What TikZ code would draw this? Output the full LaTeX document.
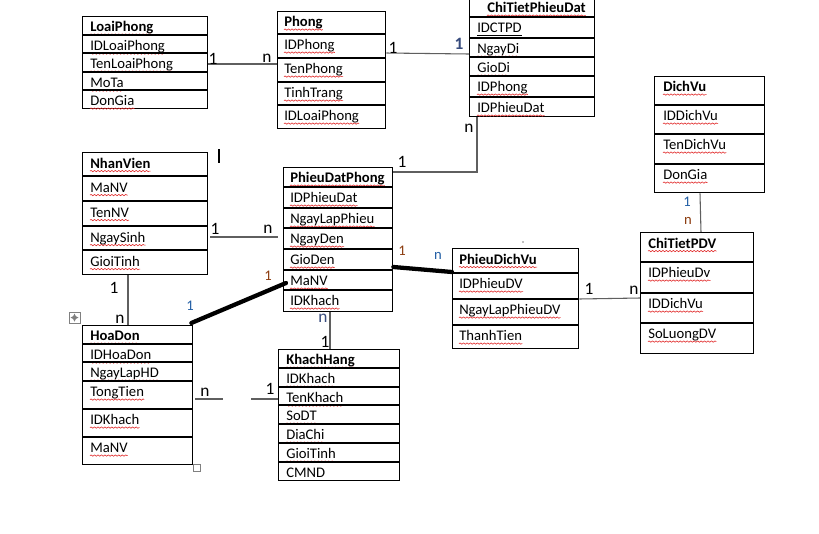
\documentclass[tikz,border=0pt]{standalone}
\usepackage{fontspec}
\setmainfont{Carlito}
\usetikzlibrary{decorations.pathmorphing}
\definecolor{squig}{RGB}{225,40,40}
\definecolor{numblue}{RGB}{35,95,165}
\definecolor{numbrown}{RGB}{140,60,15}
\definecolor{inkblue}{RGB}{55,75,125}
\definecolor{linegray}{RGB}{95,95,95}
\newlength{\pxu}\setlength{\pxu}{0.75pt}
\tikzstyle{tbl}=[draw, line width=1pt, rectangle, anchor=north west, inner sep=0pt]
\tikzstyle{rowline}=[line width=1pt]
\tikzstyle{wavy}=[draw=squig, line width=0.45pt, decorate,
  decoration={snake, amplitude=0.5pt, segment length=2.6pt}]
\tikzstyle{txt}=[anchor=base west, inner sep=0pt, font=\fontsize{11}{13}\selectfont]
\tikzstyle{fld}=[txt, append after command={([yshift=-2.3pt]\tikzlastnode.base west)
  edge[wavy] ([yshift=-2.3pt]\tikzlastnode.base east)}]
\tikzstyle{keyfld}=[txt, append after command={([yshift=-1.8pt]\tikzlastnode.base west)
  edge[line width=0.6pt] ([yshift=-1.8pt]\tikzlastnode.base east)}]
\tikzstyle{ttl}=[fld, font=\fontsize{11}{13}\selectfont\bfseries]
\tikzstyle{conn}=[line width=0.8pt, draw=linegray]
\tikzstyle{boldconn}=[line width=3.2pt, line cap=round]
\tikzstyle{hand}=[inner sep=0pt, font=\fontsize{13}{15}\selectfont]
\tikzstyle{mult}=[inner sep=0pt, font=\fontsize{11}{13}\selectfont]

\begin{document}
\begin{tikzpicture}[x=0.75pt, y=-0.75pt]
\fill[white] (0,0) rectangle (819,533);
\useasboundingbox (0,0) rectangle (819,533);

% LoaiPhong
\node[tbl, minimum width=125\pxu, minimum height=92\pxu] (loaiphong) at (82,16) {};
\node[ttl] (loaiphong-t) at (90,31.5) {LoaiPhong};
\foreach \yy/\fname [count=\i] in {35/IDLoaiPhong, 53/TenLoaiPhong, 72/MoTa, 90/DonGia}{
  \draw[rowline] (loaiphong.west |- 0,\yy) -- (loaiphong.east |- 0,\yy);
  \node[fld] (loaiphong-\i) at (90,\yy+15.5) {\fname};
}

% Phong
\node[tbl, minimum width=108\pxu, minimum height=117\pxu] (phong) at (277,11) {};
\node[ttl] (phong-t) at (284,26.5) {Phong};
\foreach \yy/\fname [count=\i] in {34/IDPhong, 58/TenPhong, 82/TinhTrang, 105/IDLoaiPhong}{
  \draw[rowline] (phong.west |- 0,\yy) -- (phong.east |- 0,\yy);
  \node[fld] (phong-\i) at (284,\yy+15.5) {\fname};
}

% ChiTietPhieuDat
\node[tbl, minimum width=125\pxu, minimum height=118\pxu] (ctpd) at (469,-2) {};
\node[ttl] (ctpd-t) at (487,12.5) {ChiTietPhieuDat};
\draw[rowline] (ctpd.west |- 0,17) -- (ctpd.east |- 0,17);
\node[keyfld] (ctpd-1) at (477,32.5) {IDCTPD};
\foreach \yy/\fname [count=\i from 2] in {38/NgayDi, 57/GioDi, 76/IDPhong, 97/IDPhieuDat}{
  \draw[rowline] (ctpd.west |- 0,\yy) -- (ctpd.east |- 0,\yy);
  \node[fld] (ctpd-\i) at (477,\yy+15.5) {\fname};
}

% DichVu
\node[tbl, minimum width=110\pxu, minimum height=116\pxu] (dichvu) at (654,76) {};
\node[ttl] (dichvu-t) at (663,91.5) {DichVu};
\foreach \yy/\fname [count=\i] in {105/IDDichVu, 134/TenDichVu, 164/DonGia}{
  \draw[rowline] (dichvu.west |- 0,\yy) -- (dichvu.east |- 0,\yy);
  \node[fld] (dichvu-\i) at (663,\yy+15.5) {\fname};
}

% NhanVien
\node[tbl, minimum width=125\pxu, minimum height=122\pxu] (nhanvien) at (82,152) {};
\node[ttl] (nhanvien-t) at (90,168) {NhanVien};
\foreach \yy/\fname [count=\i] in {176/MaNV, 201/TenNV, 226/NgaySinh, 250/GioiTinh}{
  \draw[rowline] (nhanvien.west |- 0,\yy) -- (nhanvien.east |- 0,\yy);
  \node[fld] (nhanvien-\i) at (90,\yy+16) {\fname};
}

% PhieuDatPhong
\node[tbl, minimum width=109\pxu, minimum height=144\pxu] (pdp) at (283,167) {};
\node[ttl] (pdp-t) at (290,182.5) {PhieuDatPhong};
\foreach \yy/\fname [count=\i] in {187/IDPhieuDat, 208/NgayLapPhieu, 228/NgayDen, 249/GioDen, 270/MaNV, 290/IDKhach}{
  \draw[rowline] (pdp.west |- 0,\yy) -- (pdp.east |- 0,\yy);
  \node[fld] (pdp-\i) at (290,\yy+15.5) {\fname};
}

% PhieuDichVu
\node[tbl, minimum width=126\pxu, minimum height=100\pxu] (pdv) at (452,248) {};
\node[ttl] (pdv-t) at (459,264) {PhieuDichVu};
\foreach \yy/\fname [count=\i] in {273/IDPhieuDV, 299/NgayLapPhieuDV, 325/ThanhTien}{
  \draw[rowline] (pdv.west |- 0,\yy) -- (pdv.east |- 0,\yy);
  \node[fld] (pdv-\i) at (459,\yy+15.5) {\fname};
}

% ChiTietPDV
\node[tbl, minimum width=113\pxu, minimum height=121\pxu] (ctpdv) at (640,232) {};
\node[ttl] (ctpdv-t) at (648,248) {ChiTietPDV};
\foreach \yy/\fname [count=\i] in {262/IDPhieuDv, 293/IDDichVu, 323/SoLuongDV}{
  \draw[rowline] (ctpdv.west |- 0,\yy) -- (ctpdv.east |- 0,\yy);
  \node[fld] (ctpdv-\i) at (648,\yy+15.5) {\fname};
}

% HoaDon
\node[tbl, minimum width=110\pxu, minimum height=139\pxu] (hoadon) at (82,325) {};
\node[ttl] (hoadon-t) at (90,340.5) {HoaDon};
\foreach \yy/\fname [count=\i] in {344/IDHoaDon, 362/NgayLapHD, 381/TongTien, 409/IDKhach, 437/MaNV}{
  \draw[rowline] (hoadon.west |- 0,\yy) -- (hoadon.east |- 0,\yy);
  \node[fld] (hoadon-\i) at (90,\yy+15.5) {\fname};
}

% KhachHang
\node[tbl, minimum width=121\pxu, minimum height=131\pxu] (khachhang) at (278,349) {};
\node[ttl] (khachhang-t) at (286,364.5) {KhachHang};
\foreach \yy/\fname [count=\i] in {368/IDKhach, 387/TenKhach, 405/SoDT, 424/DiaChi, 443/GioiTinh}{
  \draw[rowline] (khachhang.west |- 0,\yy) -- (khachhang.east |- 0,\yy);
  \node[fld] (khachhang-\i) at (286,\yy+15.5) {\fname};
}
\draw[rowline] (khachhang.west |- 0,462) -- (khachhang.east |- 0,462);
\node[txt] (khachhang-6) at (286,477.5) {CMND};

% connectors
\draw[conn] (loaiphong.east |- 0,64) -- (phong.west |- 0,64);
\draw[conn] (phong.east |- 0,53) -- (ctpd.west |- 0,54);
\draw[conn] (ctpd.south -| 477,0) |- (pdp.east |- 0,172);
\draw[conn] (dichvu.south -| 700,0) -- (ctpdv.north -| 701,0);
\draw[conn] (nhanvien.east |- 0,237) ++(2,0) -- ++(68,0);
\draw[conn] (nhanvien.south -| 128,0) -- (hoadon.north -| 128,0);
\draw[conn] (pdv.east |- 0,299) -- (ctpdv.west |- 0,298);
\draw[conn] (hoadon.east |- 0,399) ++(2,0) -- ++(28,0);
\draw[conn] (khachhang.west |- 0,399) -- ++(-27,0);
\draw[conn] (pdp.south -| 330,0) -- (khachhang.north -| 330,0);
\draw[boldconn] (pdp.east |- 0,267) -- (pdv.west |- 0,272);
\draw[boldconn] ([shift={(-2,-2)}]hoadon.north east) -- ([shift={(3,0)}]pdp.west |- 0,283);

% cardinalities
\node[hand] (c1) at (213,59) {1};
\node[hand] (c2) at (267,58) {n};
\node[hand] (c3) at (393,48) {1};
\node[hand, text=inkblue, font=\fontsize{13}{15}\selectfont\bfseries] (c4) at (459,44) {1};
\node[hand] (c5) at (469,128) {n};
\node[hand] (c6) at (402,162) {1};
\node[hand] (c7) at (215,229) {1};
\node[hand] (c8) at (268,229) {n};
\node[hand] (c9) at (114,288) {1};
\node[hand] (c10) at (120,319) {n};
\node[hand] (c11) at (205,392) {n};
\node[hand] (c12) at (270,389) {1};
\node[hand, text=inkblue] (c13) at (323,318) {n};
\node[hand] (c14) at (325,342) {1};
\node[hand] (c15) at (589,289) {1};
\node[hand] (c16) at (634,290) {n};
\node[mult, text=numblue] (m1) at (190,306) {1};
\node[mult, text=numbrown] (m2) at (268,276) {1};
\node[mult, text=numbrown] (m3) at (402,251) {1};
\node[mult, text=numblue] (m4) at (438,256) {n};
\node[mult, text=numblue] (m5) at (687,202) {1};
\node[mult, text=numbrown] (m6) at (688,221) {n};

% stray marks
\draw[line width=0.8pt] (219,149) -- (219,163);
\fill[gray] (523,242) circle (0.8);
\draw[gray, line width=0.6pt] (69,312) rectangle (80,323);
\draw[gray, line width=0.5pt, -stealth] (74.5,317.5) -- (74.5,313.5);
\draw[gray, line width=0.5pt, -stealth] (74.5,317.5) -- (74.5,321.5);
\draw[gray, line width=0.5pt, -stealth] (74.5,317.5) -- (70.5,317.5);
\draw[gray, line width=0.5pt, -stealth] (74.5,317.5) -- (78.5,317.5);
\draw[gray, line width=0.6pt] (193,464) rectangle (200,471);
\end{tikzpicture}
\end{document}
